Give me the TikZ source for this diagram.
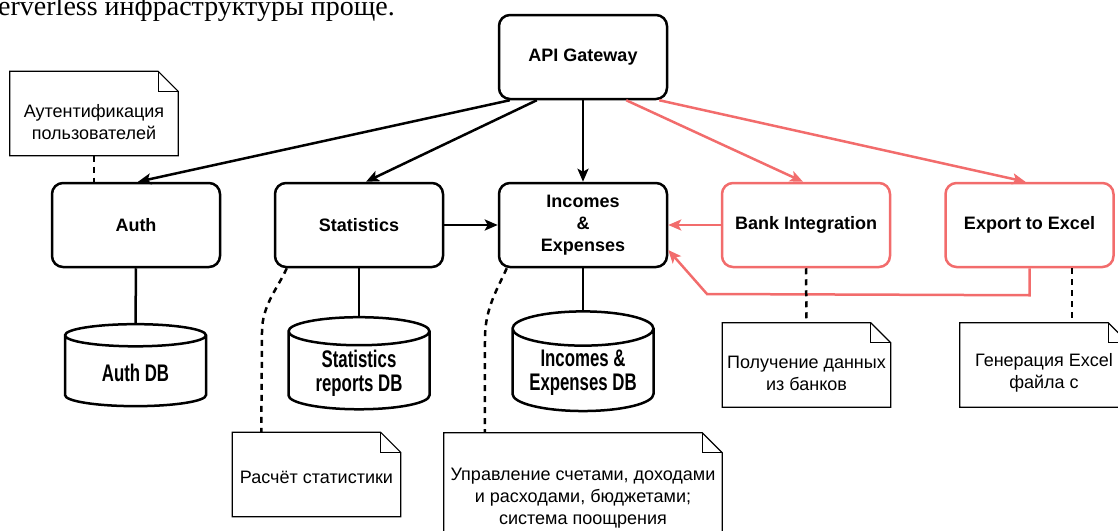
\documentclass[tikz,border=0pt]{standalone}
\usepackage{fontspec}
\setmainfont{Liberation Sans}
\newfontfamily\narrowfont[FakeStretch=0.7]{Liberation Sans}
\newfontfamily\docfont{Liberation Serif}
\usetikzlibrary{arrows.meta,shapes.geometric}
\definecolor{extred}{RGB}{242,108,108}

\begin{document}
\begin{tikzpicture}[x=1pt,y=-1pt,
    service/.style={draw,line width=2.5pt,rounded corners=11pt,minimum width=168pt,minimum height=84pt,
        align=center,font=\fontsize{18}{22}\selectfont\bfseries},
    external/.style={service,draw=extred},
    db/.style={draw,line width=2.5pt,cylinder,shape border rotate=90,aspect=0.3,minimum width=141pt,
        minimum height=82pt,align=center,font=\narrowfont\fontsize{24}{24}\selectfont\bfseries},
    note/.style={minimum width=168pt,minimum height=84pt},
    notetext/.style={align=center,font=\fontsize{18}{22}\selectfont},
    call/.style={line width=2.5pt,-{Stealth[length=13pt,width=11pt,inset=3pt]}},
    link/.style={line width=2.5pt},
    dashlink/.style={line width=2.5pt,dash pattern=on 6pt off 5pt}]
    \useasboundingbox (0,0) rectangle (1118,530);
    \clip (0,0) rectangle (1118,530);

    % cut-off line of the page above
    \node[anchor=base east,inner sep=0,font=\docfont\fontsize{28}{30}\selectfont] (pagetext) at (395,15)
        {serverless инфраструктуры проще.};

    % services
    \node[service] (api) at (583,57) {API Gateway};
    \node[service] (auth) at (136,225) {Auth};
    \node[service] (stats) at (359,225) {Statistics};
    \node[service] (inc) at (583,225) {Incomes\\\&\\Expenses};
    \node[external] (bank) at (806,225) {Bank Integration};
    \node[external] (export) at (1029.5,225) {Export to Excel};

    % databases
    \node[db] (authdb) at (135.5,373) {Auth DB};
    \node[db] (statdb) at (359,373) {Statistics\\reports DB};
    \node[db] (incdb) at (583,373) {Incomes \&\\Expenses DB};

    % notes
    \node[note] (noteauth) at (94,113.5) {};
    \node[note] (notestat) at (316.5,474.5) {};
    \node[note,minimum width=278pt,minimum height=130pt] (noteinc) at (583,498) {};
    \node[note] (notebank) at (806.5,365) {};
    \node[note] (noteexcel) at (1044,365) {};
    \foreach \n in {noteauth,notestat,noteinc,notebank,noteexcel} {
        \draw[line width=1.2pt] (\n.south west) -- (\n.north west) -- ([xshift=-20pt]\n.north east)
            -- ([yshift=-20pt]\n.north east) -- (\n.south east) -- cycle;
        \draw[line width=1.2pt] ([xshift=-20pt]\n.north east) -- ([xshift=-20pt,yshift=-20pt]\n.north east)
            -- ([yshift=-20pt]\n.north east);
    }
    \node[notetext] at ([yshift=-9pt]noteauth.center) {Аутентификация\\пользователей};
    \node[notetext] at ([yshift=-3pt]notestat.center) {Расчёт статистики};
    \node[notetext] at (noteinc.center) {Управление счетами, доходами\\и расходами, бюджетами;\\система поощрения};
    \node[notetext] at ([yshift=-8pt]notebank.center) {Получение данных\\из банков};
    \node[notetext] at ([yshift=-8pt]noteexcel.center) {Генерация Excel\\файла с};

    % calls from the gateway
    \draw[call] ([xshift=12pt]api.south west) -- ([xshift=2pt]auth.north);
    \draw[call] ([xshift=39pt]api.south west) -- ([xshift=7pt]stats.north);
    \draw[call] (api.south) -- (inc.north);
    \draw[call,extred] ([xshift=-42pt]api.south east) -- ([xshift=-3pt]bank.north);
    \draw[call,extred] ([xshift=-9pt]api.south east) -- ([xshift=-4pt]export.north);

    % calls between services
    \draw[call] (stats.east) -- (inc.west);
    \draw[call,extred] (bank.west) -- (inc.east);
    \draw[call,extred] (export.south) -- ++(0,27) -- (707,294) -- ([yshift=-25pt]inc.east);

    % storage
    \draw[link] (auth.south) -- (authdb.north);
    \draw[link] (stats.south) -- (statdb.north);
    \draw[link] (inc.south) -- (incdb.north);

    % notes attached
    \draw[dashlink] (noteauth.south) -- (noteauth.south |- auth.north);
    \draw[dashlink] ([xshift=13pt]stats.south west) .. controls (278,288) and (262,305) .. (262,332)
        -- ([xshift=29pt]notestat.north west);
    \draw[dashlink] ([xshift=9pt]inc.south west) .. controls (498,288) and (485,308) .. (485,338)
        -- ([xshift=41pt]noteinc.north west);
    \draw[dashlink] (bank.south) -- (notebank.north);
    \draw[dashlink] ([xshift=42.5pt]export.south) -- ([xshift=28pt]noteexcel.north);
\end{tikzpicture}
\end{document}
